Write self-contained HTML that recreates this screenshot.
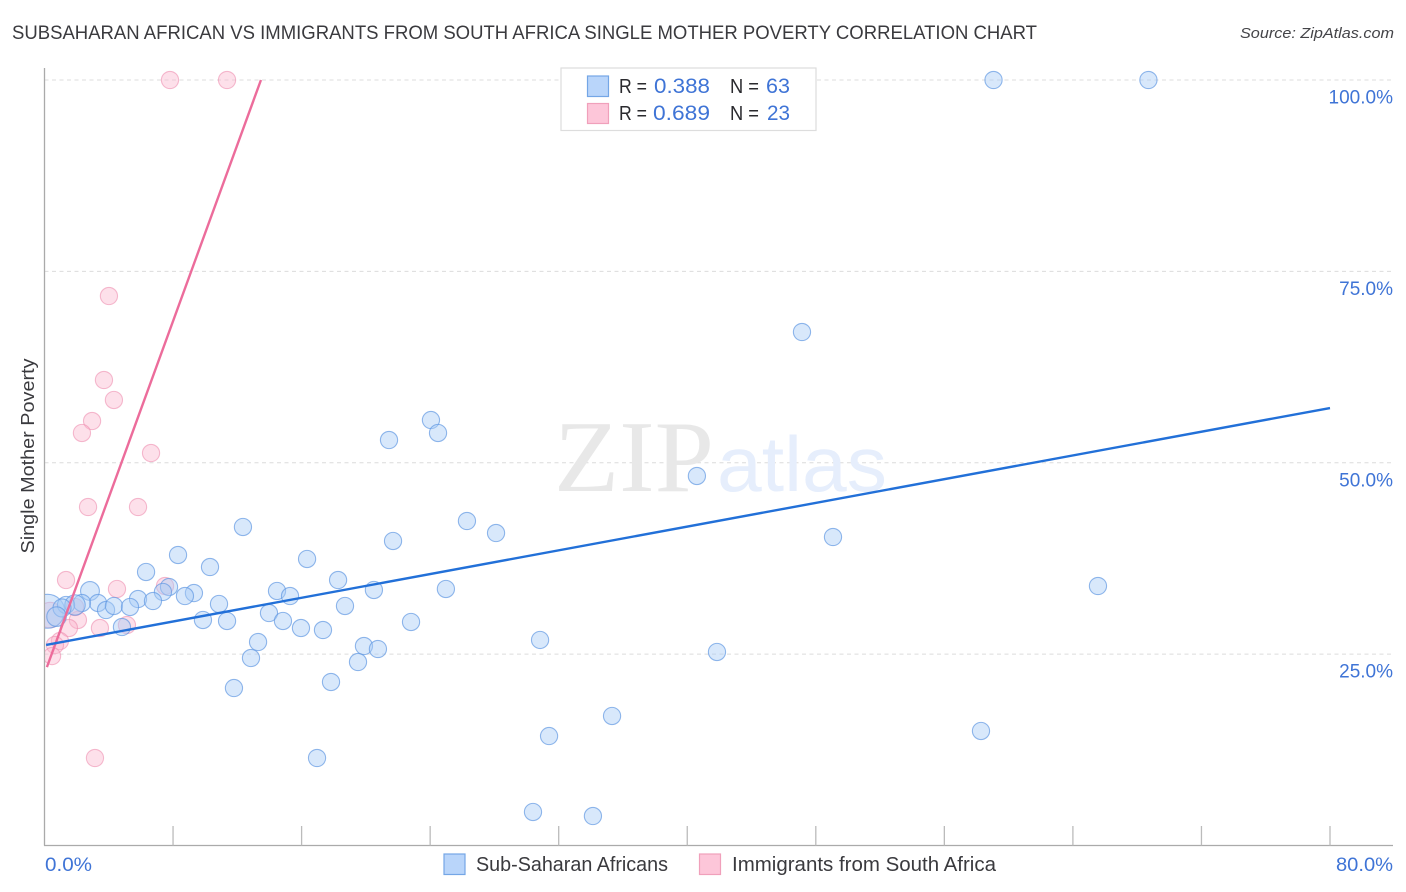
<!DOCTYPE html>
<html lang="en">
<head>
<meta charset="utf-8">
<title>Subsaharan African vs Immigrants from South Africa Single Mother Poverty Correlation Chart</title>
<style>
html,body{margin:0;padding:0;background:#fff;width:1406px;height:892px;overflow:hidden}
svg{display:block;font-family:"Liberation Sans",sans-serif}
</style>
</head>
<body>
<svg id="chart" width="1406" height="892" viewBox="0 0 1406 892" xmlns="http://www.w3.org/2000/svg">
  <defs>
    <clipPath id="plot-clip"><rect x="45" y="60" width="1348" height="785"/></clipPath>
  </defs>
  <text x="12" y="39" font-size="19" fill="#3a3a3e" textLength="1025" lengthAdjust="spacingAndGlyphs">SUBSAHARAN AFRICAN VS IMMIGRANTS FROM SOUTH AFRICA SINGLE MOTHER POVERTY CORRELATION CHART</text>
  <text x="1394" y="38" font-size="15" font-style="italic" fill="#444448" text-anchor="end" textLength="154" lengthAdjust="spacingAndGlyphs">Source: ZipAtlas.com</text>

  <g id="grid"></g>

  <g>
    <text x="554" y="491" font-family="'Liberation Serif',serif" font-size="102" fill="#e8e8e8" textLength="160" lengthAdjust="spacingAndGlyphs">ZIP</text>
    <text x="717" y="491" font-size="78" fill="#e6eefc" textLength="170" lengthAdjust="spacingAndGlyphs">atlas</text>
  </g>

  <line x1="44.5" y1="68" x2="44.5" y2="845.5" stroke="#aaaaaa" stroke-width="1.3"/>
  <line x1="44" y1="845.5" x2="1393" y2="845.5" stroke="#aaaaaa" stroke-width="1.3"/>
  <g id="x-ticks"></g>
  <g id="y-labels"></g>

  <text transform="translate(34 456) rotate(-90)" font-size="18.5" fill="#3a3a3e" text-anchor="middle" textLength="195" lengthAdjust="spacingAndGlyphs">Single Mother Poverty</text>
  <text x="45" y="871" font-size="19" fill="#3f74d6" textLength="47" lengthAdjust="spacingAndGlyphs">0.0%</text>
  <text x="1393" y="871" font-size="19" fill="#3f74d6" text-anchor="end" textLength="57" lengthAdjust="spacingAndGlyphs">80.0%</text>

  <g id="points" clip-path="url(#plot-clip)"></g>
  <g id="trends"></g>

  <g>
    <rect x="561" y="68" width="255" height="62.5" fill="#fff" stroke="#dddddd" stroke-width="1.2"/>
    <rect x="587.5" y="76" width="21" height="20.5" fill="#b9d5fa" stroke="#74a6e6" stroke-width="1.2"/>
    <rect x="587.5" y="103.5" width="21" height="20" fill="#fdc6d9" stroke="#f0a0bb" stroke-width="1.2"/>
    <g font-size="20">
      <text x="619" y="93" fill="#2a2a2e" textLength="28" lengthAdjust="spacingAndGlyphs">R =</text>
      <text x="654" y="93" fill="#3f74d6" font-size="21" textLength="56" lengthAdjust="spacingAndGlyphs">0.388</text>
      <text x="730" y="93" fill="#2a2a2e" textLength="29" lengthAdjust="spacingAndGlyphs">N =</text>
      <text x="766" y="93" fill="#3f74d6" font-size="21" textLength="24" lengthAdjust="spacingAndGlyphs">63</text>
      <text x="619" y="120" fill="#2a2a2e" textLength="28" lengthAdjust="spacingAndGlyphs">R =</text>
      <text x="653" y="120" fill="#3f74d6" font-size="21" textLength="57" lengthAdjust="spacingAndGlyphs">0.689</text>
      <text x="730" y="120" fill="#2a2a2e" textLength="29" lengthAdjust="spacingAndGlyphs">N =</text>
      <text x="767" y="120" fill="#3f74d6" font-size="21" textLength="23" lengthAdjust="spacingAndGlyphs">23</text>
    </g>
  </g>

  <g>
    <g>
      <rect x="444" y="854" width="21" height="20.5" fill="#b9d5fa" stroke="#74a6e6" stroke-width="1.2"/>
      <text x="476" y="871" font-size="20" fill="#3a3a3e" textLength="192" lengthAdjust="spacingAndGlyphs">Sub-Saharan Africans</text>
    </g>
    <g>
      <rect x="699.5" y="854" width="21" height="20.5" fill="#fdc6d9" stroke="#f0a0bb" stroke-width="1.2"/>
      <text x="732" y="871" font-size="20" fill="#3a3a3e" textLength="264" lengthAdjust="spacingAndGlyphs">Immigrants from South Africa</text>
    </g>
  </g>
</svg>
<script>
const yGridValues = [25, 50, 75, 100];
const yTickLabels = ["25.0%", "50.0%", "75.0%", "100.0%"];
const xTickValues = [8, 16, 24, 32, 40, 48, 56, 64, 72, 80];

const blueX = [0.2, 59.06, 68.7, 47.14, 24.05, 24.49, 21.44, 40.6, 26.29, 28.1, 49.07, 12.35, 21.69, 8.31, 16.34, 10.3, 6.32, 18.27, 65.56, 24.98, 20.5, 14.47, 15.28, 7.75, 7.37, 9.3, 8.74, 5.82, 6.75, 10.86, 18.7, 2.83, 3.33, 2.33, 3.83, 4.32, 5.32, 1.34, 1.9, 1.09, 0.75, 9.86, 11.36, 13.97, 14.84, 22.81, 4.82, 15.96, 17.33, 30.84, 13.29, 19.88, 20.75, 41.85, 12.85, 19.51, 17.83, 11.79, 35.32, 58.28, 31.4, 16.96, 30.4, 34.13];
const blueY = [30.6, 100, 100, 67.08, 55.58, 53.89, 52.97, 48.27, 42.39, 40.82, 40.3, 41.61, 39.78, 37.95, 37.43, 36.38, 35.73, 34.68, 33.9, 33.51, 33.38, 33.25, 32.59, 33.77, 33.12, 32.98, 32.59, 32.2, 31.94, 31.55, 31.29, 33.25, 31.68, 31.68, 30.76, 31.29, 31.16, 31.42, 31.42, 31.03, 29.9, 29.46, 29.33, 30.37, 29.33, 29.2, 28.54, 28.41, 28.15, 26.85, 26.58, 26.06, 25.67, 25.28, 24.49, 23.97, 21.36, 20.57, 16.92, 14.96, 14.3, 11.43, 4.38, 3.85];
const blueWeight = [3.9, 1, 1, 1, 1, 1, 1, 1, 1, 1, 1, 1, 1, 1, 1, 1, 1, 1, 1, 1, 1, 1, 1, 1, 1, 1, 1, 1, 1, 1, 1, 1.2, 1, 1, 1, 1, 1, 1, 1.4, 1.1, 1.3, 1, 1, 1, 1, 1, 1, 1, 1, 1, 1, 1, 1, 1, 1, 1, 1, 1, 1, 1, 1, 1, 1, 1];

const pinkX = [7.81, 11.36, 4.01, 3.7, 4.32, 2.96, 2.33, 6.63, 2.71, 5.82, 1.34, 4.51, 7.5, 0.35, 2.08, 1.52, 3.45, 5.13, 0.96, 0.65, 0.47, 1.9, 3.14];
const pinkY = [100, 100, 71.78, 60.81, 58.2, 55.45, 53.89, 51.27, 44.22, 44.22, 34.68, 33.51, 33.9, 30.1, 29.46, 28.41, 28.41, 28.8, 26.71, 26.19, 24.75, 31.16, 11.43];
const pinkWeight = [1, 1, 1, 1, 1, 1, 1, 1, 1, 1, 1, 1, 1, 2.2, 1, 1, 1, 1, 1, 1, 1, 1, 1];

const blueTrendX = [0.1, 80];
const blueTrendY = [26.2, 57.15];
const pinkTrendX = [0.15, 13.47];
const pinkTrendY = [23.3, 100];

const NS = "http://www.w3.org/2000/svg";
function xScale(v) { return 44.5 + v * (1330 - 44.5) / 80; }
function yScale(v) { return 845.5 - v * (845.5 - 80) / 100; }
function rScale(w) { return 8.6 * Math.sqrt(w); }
function make(tag, attrs) {
  const el = document.createElementNS(NS, tag);
  for (const k in attrs) el.setAttribute(k, attrs[k]);
  return el;
}

const gridG = document.getElementById("grid");
const yLabelG = document.getElementById("y-labels");
yGridValues.forEach(function (v, i) {
  const line = make("line", { x1: 44.5, x2: 1393, y1: yScale(v), y2: yScale(v), stroke: "#dcdcdc", "stroke-width": 1, "stroke-dasharray": "4 3.5" });
  
  
  gridG.appendChild(line);
  const label = make("text", { x: 1393, y: yScale(v) + 23.5, "font-size": 19, fill: "#3f74d6", "text-anchor": "end" });
  
  
  label.textContent = yTickLabels[i];
  yLabelG.appendChild(label);
});

const xTickG = document.getElementById("x-ticks");
xTickValues.forEach(function (v) {
  const tick = make("line", { x1: xScale(v), x2: xScale(v), y1: 826, y2: 845.5, stroke: "#bbbbbb", "stroke-width": 1.3 });
  
  
  xTickG.appendChild(tick);
});

const pointsG = document.getElementById("points");
pinkX.forEach(function (v, i) {
  const c = make("circle", { cx: xScale(v), cy: yScale(pinkY[i]), r: rScale(pinkWeight[i]), fill: "#fbb6ce", "fill-opacity": 0.42, stroke: "#ee8fb0", "stroke-opacity": 0.6, "stroke-width": 1.1 });
  
  
  pointsG.appendChild(c);
});
blueX.forEach(function (v, i) {
  const c = make("circle", { cx: xScale(v), cy: yScale(blueY[i]), r: rScale(blueWeight[i]), fill: "#a9cbf6", "fill-opacity": 0.45, stroke: "#5f97e2", "stroke-opacity": 0.68, "stroke-width": 1.1 });
  
  
  pointsG.appendChild(c);
});

const trendsG = document.getElementById("trends");
const pinkLine = make("line", { x1: xScale(pinkTrendX[0]), y1: yScale(pinkTrendY[0]), x2: xScale(pinkTrendX[1]), y2: yScale(pinkTrendY[1]), stroke: "#ec6c9b", "stroke-width": 2.4 });


trendsG.appendChild(pinkLine);
const blueLine = make("line", { x1: xScale(blueTrendX[0]), y1: yScale(blueTrendY[0]), x2: xScale(blueTrendX[1]), y2: yScale(blueTrendY[1]), stroke: "#2270d8", "stroke-width": 2.4 });


trendsG.appendChild(blueLine);
</script>
</body>
</html>
